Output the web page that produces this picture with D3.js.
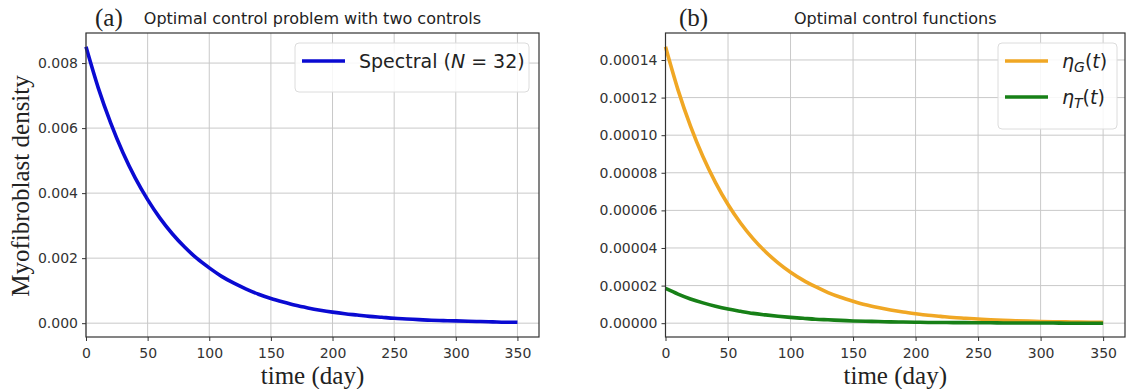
<!DOCTYPE html>
<html>
<head>
<meta charset="utf-8">
<script src="https://cdn.jsdelivr.net/npm/d3@7"></script>
<style>
  body { margin: 0; background: #fff; }
  .tick text { font-family: "DejaVu Sans", sans-serif; font-size: 14px; fill: #333; }
  .serif { font-family: "Liberation Serif", "Times New Roman", serif; fill: #222; }
  .title { font-family: "DejaVu Sans", sans-serif; font-size: 16px; fill: #222; }
</style>
</head>
<body>
<div id="chart"></div>
<script>
// time points (day)
const days = d3.range(0, 351, 10);

// panel (a): myofibroblast density, spectral N = 32
const density = [0.00850, 0.00723, 0.00616, 0.00524, 0.00446, 0.00380, 0.00323, 0.00275,
  0.00234, 0.00199, 0.00170, 0.00144, 0.00123, 0.00105, 0.00089, 0.00076, 0.00065, 0.00055,
  0.00047, 0.00040, 0.00034, 0.00029, 0.00025, 0.00021, 0.00018, 0.00015, 0.00013, 0.00011,
  0.00009, 0.00008, 0.00007, 0.00006, 0.00005, 0.00004, 0.00003, 0.00003];

// panel (b): control functions
const etaG = [0.0001470, 0.0001241, 0.0001048, 0.0000885, 0.0000748, 0.0000631, 0.0000533,
  0.0000450, 0.0000380, 0.0000321, 0.0000271, 0.0000229, 0.0000194, 0.0000163, 0.0000138,
  0.0000117, 0.0000098, 0.0000083, 0.0000070, 0.0000059, 0.0000050, 0.0000042, 0.0000036,
  0.0000030, 0.0000026, 0.0000022, 0.0000018, 0.0000015, 0.0000013, 0.0000011, 0.0000009,
  0.0000008, 0.0000007, 0.0000006, 0.0000005, 0.0000004];
const etaT = [0.0000185, 0.0000155, 0.0000129, 0.0000108, 0.0000090, 0.0000075, 0.0000063,
  0.0000052, 0.0000044, 0.0000037, 0.0000031, 0.0000026, 0.0000021, 0.0000018, 0.0000015,
  0.0000012, 0.0000010, 0.0000009, 0.0000007, 0.0000006, 0.0000005, 0.0000004, 0.0000004,
  0.0000003, 0.0000003, 0.0000002, 0.0000002, 0.0000001, 0.0000001, 0.0000001, 0.0000001,
  0.0000001, 0.0000000, 0.0000000, 0.0000000, 0.0000000];

const xTicks = [0, 50, 100, 150, 200, 250, 300, 350];
const yTicksA = [0, 0.002, 0.004, 0.006, 0.008];
const yTicksB = [0, 0.00002, 0.00004, 0.00006, 0.00008, 0.00010, 0.00012, 0.00014];

const svg = d3.select("#chart").append("svg")
  .attr("width", 1131)
  .attr("height", 389);

function panel(opt) {
  const x = d3.scaleLinear().domain([0, 367.5]).range([opt.left, opt.right]);
  const y = d3.scaleLinear().domain(opt.ydom).range([337, 33]);
  const g = svg.append("g");

  // grid
  g.append("g").selectAll("line").data(xTicks).join("line")
    .attr("x1", d => x(d)).attr("x2", d => x(d))
    .attr("y1", 33).attr("y2", 337)
    .attr("stroke", "#c9c9c9").attr("stroke-width", 1);
  g.append("g").selectAll("line").data(opt.yticks).join("line")
    .attr("x1", opt.left).attr("x2", opt.right)
    .attr("y1", d => y(d)).attr("y2", d => y(d))
    .attr("stroke", "#c9c9c9").attr("stroke-width", 1);

  // lines
  opt.series.forEach(s => {
    g.append("path")
      .datum(s.values)
      .attr("fill", "none")
      .attr("stroke", s.color)
      .attr("stroke-width", 3.6)
      .attr("d", d3.line().x((d, i) => x(days[i])).y(d => y(d)).curve(d3.curveMonotoneX));
  });

  // frame
  g.append("rect")
    .attr("x", opt.left).attr("y", 33)
    .attr("width", opt.right - opt.left).attr("height", 304)
    .attr("fill", "none").attr("stroke", "#333").attr("stroke-width", 1.2);

  // axes
  const xa = g.append("g").attr("transform", "translate(0,337)")
    .call(d3.axisBottom(x).tickValues(xTicks).tickFormat(d3.format("d")).tickSize(4).tickPadding(4));
  const ya = g.append("g").attr("transform", `translate(${opt.left},0)`)
    .call(d3.axisLeft(y).tickValues(opt.yticks).tickFormat(d3.format(opt.fmt)).tickSize(4).tickPadding(4));
  [xa, ya].forEach(a => {
    a.select(".domain").remove();
    a.selectAll(".tick line").attr("stroke", "#333");
  });
  xa.selectAll(".tick text").attr("dy", "0.9em");

  // x label
  g.append("text").attr("class", "serif")
    .attr("x", (opt.left + opt.right) / 2).attr("y", 384)
    .attr("text-anchor", "middle").style("font-size", "25px")
    .text("time (day)");

  // title
  g.append("text").attr("class", "serif")
    .attr("x", opt.tagX).attr("y", 26)
    .style("font-size", "25px").text(opt.tag);
  g.append("text").attr("class", "title")
    .attr("x", (opt.left + opt.right) / 2).attr("y", 24)
    .attr("text-anchor", "middle").text(opt.title);

  // legend
  const lg = g.append("g");
  lg.append("rect")
    .attr("x", opt.legend.x).attr("y", 43)
    .attr("width", opt.legend.w).attr("height", 12 + 37 * opt.series.length)
    .attr("rx", 4).attr("fill", "rgba(255,255,255,0.85)")
    .attr("stroke", "#dcdcdc").attr("stroke-width", 1);
  opt.series.forEach((s, i) => {
    const cy = 61 + i * 36;
    lg.append("line")
      .attr("x1", opt.legend.x + 7).attr("x2", opt.legend.x + 50)
      .attr("y1", cy).attr("y2", cy)
      .attr("stroke", s.color).attr("stroke-width", 3.6);
    const t = lg.append("text")
      .attr("x", opt.legend.x + 64).attr("y", cy + 7)
      .style("font-family", "DejaVu Sans, sans-serif").style("font-size", "19px").attr("fill", "#222");
    s.label(t);
  });
  return g;
}

panel({
  left: 86, right: 539,
  ydom: [-0.000425, 0.008925],
  yticks: yTicksA, fmt: ".3f",
  tag: "(a)", tagX: 95,
  title: "Optimal control problem with two controls",
  legend: {x: 295, w: 234},
  series: [{values: density, color: "#0a0ad2", label: t => {
    t.append("tspan").text("Spectral (");
    t.append("tspan").style("font-style", "italic").text("N");
    t.append("tspan").text(" = 32)");
  }}]
});

panel({
  left: 665.5, right: 1125,
  ydom: [-0.00000735, 0.00015435],
  yticks: yTicksB, fmt: ".5f",
  tag: "(b)", tagX: 679,
  title: "Optimal control functions",
  legend: {x: 998, w: 119},
  series: [
    {values: etaG, color: "#f0a724", label: t => {
      t.append("tspan").style("font-style", "italic").text("η");
      t.append("tspan").style("font-style", "italic").style("font-size", "14px").attr("dy", 4).text("G");
      t.append("tspan").attr("dy", -4).text("(");
      t.append("tspan").style("font-style", "italic").text("t");
      t.append("tspan").text(")");
    }},
    {values: etaT, color: "#178017", label: t => {
      t.append("tspan").style("font-style", "italic").text("η");
      t.append("tspan").style("font-style", "italic").style("font-size", "14px").attr("dy", 4).text("T");
      t.append("tspan").attr("dy", -4).text("(");
      t.append("tspan").style("font-style", "italic").text("t");
      t.append("tspan").text(")");
    }}
  ]
});

// y label of panel (a)
svg.append("text").attr("class", "serif")
  .attr("transform", "translate(29,186) rotate(-90)")
  .attr("text-anchor", "middle").style("font-size", "25px")
  .text("Myofibroblast density");
</script>
</body>
</html>
